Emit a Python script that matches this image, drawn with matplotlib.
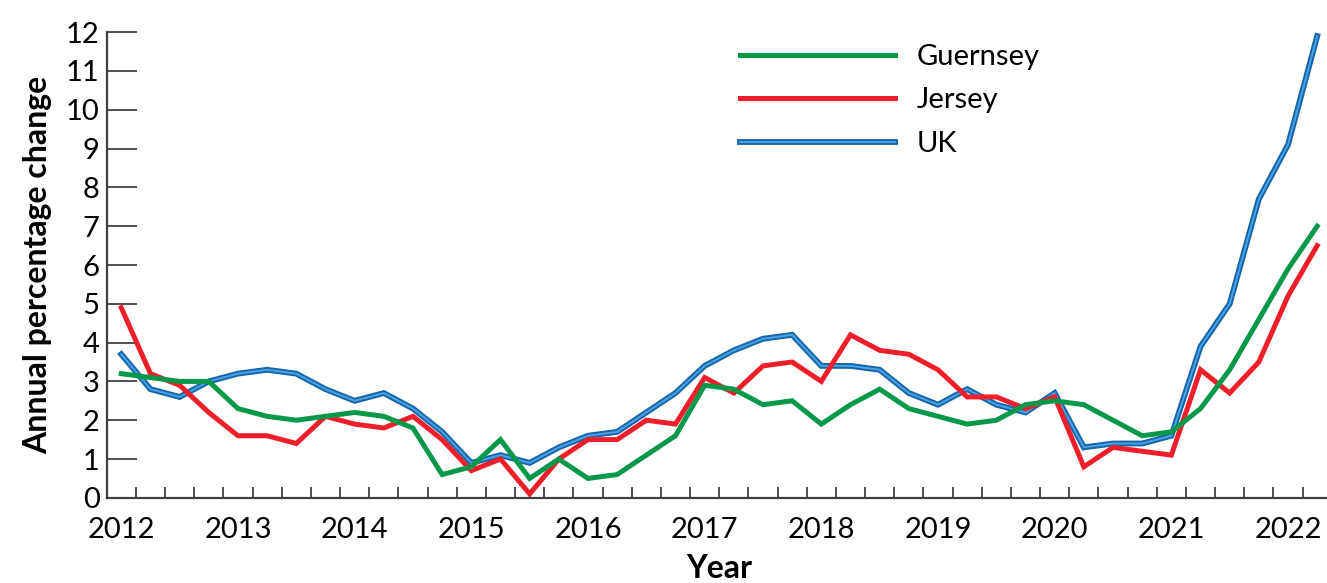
import numpy as np
import matplotlib.pyplot as plt
from matplotlib.ticker import FixedLocator

# quarterly data, 2012 Q1 .. 2022 Q2
years = list(range(2012, 2023))
guernsey = [3.2, 3.1, 3.0, 3.0, 2.3, 2.1, 2.0, 2.1, 2.2, 2.1,
            1.8, 0.6, 0.8, 1.5, 0.5, 1.0, 0.5, 0.6, 1.1, 1.6,
            2.9, 2.8, 2.4, 2.5, 1.9, 2.4, 2.8, 2.3, 2.1, 1.9,
            2.0, 2.4, 2.5, 2.4, 2.0, 1.6, 1.7, 2.3, 3.3, 4.6,
            5.9, 7.0]
jersey = [4.9, 3.2, 2.9, 2.2, 1.6, 1.6, 1.4, 2.1, 1.9, 1.8,
          2.1, 1.5, 0.7, 1.0, 0.1, 1.0, 1.5, 1.5, 2.0, 1.9,
          3.1, 2.7, 3.4, 3.5, 3.0, 4.2, 3.8, 3.7, 3.3, 2.6,
          2.6, 2.3, 2.6, 0.8, 1.3, 1.2, 1.1, 3.3, 2.7, 3.5,
          5.2, 6.5]
uk = [3.7, 2.8, 2.6, 3.0, 3.2, 3.3, 3.2, 2.8, 2.5, 2.7,
      2.3, 1.7, 0.9, 1.1, 0.9, 1.3, 1.6, 1.7, 2.2, 2.7,
      3.4, 3.8, 4.1, 4.2, 3.4, 3.4, 3.3, 2.7, 2.4, 2.8,
      2.4, 2.2, 2.7, 1.3, 1.4, 1.4, 1.6, 3.9, 5.0, 7.7,
      9.1, 11.9]

plt.rcParams['font.family'] = ['Lato', 'DejaVu Sans']

fig = plt.figure(figsize=(13.27, 5.83), dpi=100)
ax = fig.add_axes([0.0804, 0.1461, 0.9232, 0.7987])

x = np.arange(len(uk))
uk_outer, = ax.plot(x, uk, color='#1565a8', lw=4.2, solid_joinstyle='miter')
uk_inner, = ax.plot(x, uk, color='#4aa3e6', lw=1.4, solid_joinstyle='miter')
jl, = ax.plot(x, jersey, color='#ee1f2a', lw=3.6, solid_joinstyle='miter')
gl, = ax.plot(x, guernsey, color='#07984a', lw=3.6, solid_joinstyle='miter')

ax.set_xlim(-0.5, len(uk) - 0.5)
ax.set_ylim(0, 12)
ax.set_yticks(range(0, 13))
ax.set_xticks(np.arange(0, len(uk), 4))
ax.set_xticklabels([str(y) for y in years])
ax.xaxis.set_minor_locator(FixedLocator(np.arange(0.5, len(uk) - 0.5, 1)))

ax.tick_params(axis='y', direction='in', length=21.5, width=1.3, color='#404040',
               labelsize=21, pad=5)
ax.tick_params(axis='x', which='major', length=0, labelsize=21, pad=14)
ax.tick_params(axis='x', which='minor', direction='in', length=8, width=1.3,
               color='#404040')

for s in ['top', 'right']:
    ax.spines[s].set_visible(False)
for s in ['left', 'bottom']:
    ax.spines[s].set_color('#404040')
    ax.spines[s].set_linewidth(1.6)

ax.set_ylabel('Annual percentage change', fontsize=23, fontweight='bold', labelpad=10)
ax.set_xlabel('Year', fontsize=23, fontweight='bold', labelpad=8)

ax.legend([gl, jl, (uk_outer, uk_inner)], ['Guernsey', 'Jersey', 'UK'],
          loc='upper left', bbox_to_anchor=(0.517, 0.975), frameon=False,
          fontsize=21, handlelength=5.3, handletextpad=0.75, labelspacing=0.6,
          borderpad=0, borderaxespad=0)

fig.savefig('out.png', dpi=100)
